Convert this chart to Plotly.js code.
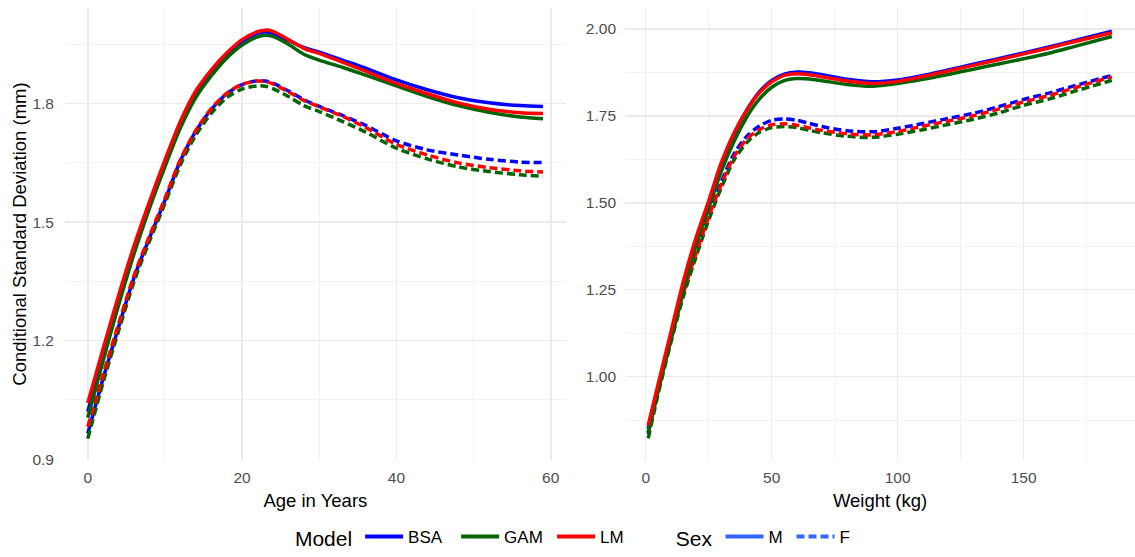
<!DOCTYPE html>
<html>
<head>
<meta charset="utf-8">
<script src="https://cdn.plot.ly/plotly-3.0.1.min.js"></script>
<style>
  html, body { margin: 0; padding: 0; background: #ffffff; }
  #chart { width: 1135px; height: 557px; }
</style>
</head>
<body>
<div id="chart"></div>
<script>
// Conditional SD curves by age
const age = [0, 2, 4, 6, 8, 10, 12, 14, 16, 18, 20, 22, 23, 24, 26, 28, 30, 33, 36, 40, 44, 48, 52, 56, 59];
const ageBsaM = [1.020, 1.165, 1.305, 1.432, 1.545, 1.650, 1.750, 1.826, 1.882, 1.925, 1.958, 1.978, 1.981, 1.978, 1.960, 1.942, 1.930, 1.910, 1.890, 1.860, 1.835, 1.815, 1.802, 1.795, 1.793];
const ageGamM = [1.005, 1.150, 1.290, 1.420, 1.535, 1.640, 1.738, 1.815, 1.870, 1.915, 1.948, 1.969, 1.973, 1.970, 1.950, 1.925, 1.910, 1.892, 1.872, 1.845, 1.818, 1.795, 1.778, 1.766, 1.762];
const ageLmM  = [1.042, 1.180, 1.315, 1.440, 1.552, 1.657, 1.755, 1.832, 1.885, 1.928, 1.962, 1.982, 1.986, 1.983, 1.962, 1.940, 1.927, 1.905, 1.882, 1.851, 1.825, 1.802, 1.786, 1.777, 1.775];
const ageBsaF = [0.965, 1.105, 1.235, 1.360, 1.460, 1.555, 1.655, 1.730, 1.785, 1.825, 1.848, 1.858, 1.857, 1.852, 1.832, 1.810, 1.793, 1.770, 1.745, 1.706, 1.683, 1.670, 1.659, 1.652, 1.651];
const ageGamF = [0.952, 1.095, 1.225, 1.350, 1.452, 1.547, 1.645, 1.720, 1.775, 1.815, 1.837, 1.845, 1.844, 1.838, 1.818, 1.795, 1.780, 1.755, 1.728, 1.687, 1.660, 1.640, 1.628, 1.620, 1.616];
const ageLmF  = [0.982, 1.115, 1.243, 1.365, 1.465, 1.560, 1.658, 1.732, 1.787, 1.826, 1.849, 1.857, 1.856, 1.850, 1.830, 1.808, 1.792, 1.768, 1.740, 1.697, 1.670, 1.650, 1.638, 1.630, 1.627];

// Conditional SD curves by weight
const weight = [1, 5, 10, 15, 20, 25, 30, 35, 40, 45, 50, 55, 60, 65, 70, 80, 90, 100, 110, 120, 130, 140, 150, 160, 170, 185];
const wtBsaM = [0.850, 0.970, 1.120, 1.265, 1.395, 1.500, 1.610, 1.697, 1.765, 1.818, 1.852, 1.870, 1.876, 1.874, 1.868, 1.855, 1.848, 1.853, 1.866, 1.882, 1.898, 1.914, 1.931, 1.948, 1.966, 1.993];
const wtGamM = [0.840, 0.960, 1.105, 1.250, 1.380, 1.485, 1.590, 1.675, 1.745, 1.797, 1.832, 1.851, 1.857, 1.856, 1.851, 1.840, 1.835, 1.843, 1.855, 1.869, 1.884, 1.899, 1.914, 1.930, 1.949, 1.978];
const wtLmM  = [0.860, 0.980, 1.128, 1.275, 1.400, 1.505, 1.615, 1.700, 1.765, 1.815, 1.848, 1.866, 1.871, 1.868, 1.862, 1.850, 1.843, 1.849, 1.863, 1.879, 1.895, 1.911, 1.928, 1.945, 1.963, 1.989];
const wtBsaF = [0.835, 0.965, 1.110, 1.245, 1.360, 1.465, 1.560, 1.640, 1.690, 1.720, 1.737, 1.741, 1.737, 1.728, 1.719, 1.707, 1.704, 1.714, 1.728, 1.742, 1.757, 1.776, 1.797, 1.815, 1.836, 1.866];
const wtGamF = [0.822, 0.952, 1.098, 1.232, 1.345, 1.450, 1.543, 1.622, 1.672, 1.702, 1.716, 1.719, 1.716, 1.708, 1.701, 1.691, 1.688, 1.697, 1.710, 1.725, 1.740, 1.758, 1.780, 1.798, 1.820, 1.852];
const wtLmF  = [0.840, 0.965, 1.108, 1.242, 1.355, 1.460, 1.553, 1.632, 1.682, 1.710, 1.724, 1.727, 1.723, 1.715, 1.708, 1.698, 1.695, 1.705, 1.720, 1.735, 1.750, 1.769, 1.790, 1.808, 1.830, 1.862];

const models = ['BSA', 'GAM', 'LM'];
const sexes = ['M', 'F'];
const modelColors = { BSA: '#0000FF', GAM: '#006400', LM: '#FF0000' };
const sexDash = { M: 'solid', F: '8px,4px' };
const sexLegendColor = '#3366FF';

const ageSeries = { BSA: { M: ageBsaM, F: ageBsaF }, GAM: { M: ageGamM, F: ageGamF }, LM: { M: ageLmM, F: ageLmF } };
const wtSeries  = { BSA: { M: wtBsaM, F: wtBsaF },  GAM: { M: wtGamM, F: wtGamF },  LM: { M: wtLmM, F: wtLmF } };

const LW = 3.5;
const traces = [];

sexes.slice().reverse().forEach(sex => {
  models.forEach(m => {
    traces.push({
      type: 'scatter', mode: 'lines', x: age, y: ageSeries[m][sex],
      xaxis: 'x', yaxis: 'y', showlegend: false, hoverinfo: 'skip',
      line: { color: modelColors[m], width: LW, dash: sexDash[sex], shape: 'spline', smoothing: 0.8 }
    });
    traces.push({
      type: 'scatter', mode: 'lines', x: weight, y: wtSeries[m][sex],
      xaxis: 'x2', yaxis: 'y2', showlegend: false, hoverinfo: 'skip',
      line: { color: modelColors[m], width: LW, dash: sexDash[sex], shape: 'spline', smoothing: 0.8 }
    });
  });
});

// Legend keys
models.forEach(m => {
  traces.push({
    type: 'scatter', mode: 'lines', x: [null], y: [null], name: m,
    legend: 'legend', showlegend: true, hoverinfo: 'skip',
    line: { color: modelColors[m], width: 4 }
  });
});
sexes.forEach(s => {
  traces.push({
    type: 'scatter', mode: 'lines', x: [null], y: [null], name: s,
    legend: 'legend2', showlegend: true, hoverinfo: 'skip',
    line: { color: sexLegendColor, width: 4, dash: sexDash[s] }
  });
});

const FONT = 'Liberation Sans, Arial, sans-serif';
const gridMajor = '#EBEBEB';
const gridMinor = '#F2F2F2';
const tickFont = { family: FONT, size: 15.5, color: '#4D4D4D' };
const titleFont = { family: FONT, size: 18.5, color: '#000000' };

function axisBase(extra) {
  return Object.assign({
    showgrid: true, gridcolor: gridMajor, gridwidth: 1.6,
    zeroline: false, showline: false, ticks: '', tickfont: tickFont,
    ticklabelstandoff: 6, fixedrange: true
  }, extra);
}

const layout = {
  width: 1135, height: 557,
  margin: { l: 65, r: 0, t: 8, b: 93 },
  paper_bgcolor: '#ffffff', plot_bgcolor: '#ffffff',
  font: { family: FONT },
  xaxis: axisBase({
    domain: [0, 0.468], range: [-2.95, 61.95], tick0: 0, dtick: 20,
    minor: { dtick: 10, showgrid: true, gridcolor: gridMinor, gridwidth: 1 },
    title: { text: 'Age in Years', font: titleFont, standoff: 9 },
    anchor: 'y'
  }),
  yaxis: axisBase({
    domain: [0, 1], range: [0.898, 2.042], tick0: 0.9, dtick: 0.3, tickformat: '.1f',
    minor: { tick0: 0.9, dtick: 0.15, showgrid: true, gridcolor: gridMinor, gridwidth: 1 },
    ticklabelstandoff: 10,
    title: { text: 'Conditional Standard Deviation (mm)', font: titleFont, standoff: 0 },
    anchor: 'x'
  }),
  xaxis2: axisBase({
    domain: [0.5234, 1], range: [-8.2, 194.2], tick0: 0, dtick: 50,
    minor: { dtick: 25, showgrid: true, gridcolor: gridMinor, gridwidth: 1 },
    title: { text: 'Weight (kg)', font: titleFont, standoff: 9 },
    anchor: 'y2'
  }),
  yaxis2: axisBase({
    domain: [0, 1], range: [0.76, 2.06], tick0: 1.0, dtick: 0.25, tickformat: '.2f',
    minor: { tick0: 1.0, dtick: 0.125, showgrid: true, gridcolor: gridMinor, gridwidth: 1 },
    ticklabelstandoff: 8,
    anchor: 'x2'
  }),
  legend: {
    orientation: 'h', x: 0.213, y: -0.173, xanchor: 'left', yanchor: 'middle',
    title: { text: 'Model', side: 'left', font: { family: FONT, size: 21, color: '#000000' } },
    font: { family: FONT, size: 17, color: '#000000' }, bgcolor: 'rgba(0,0,0,0)', itemwidth: 38,
    entrywidth: 43, entrywidthmode: 'pixels',
    traceorder: 'normal'
  },
  legend2: {
    orientation: 'h', x: 0.569, y: -0.173, xanchor: 'left', yanchor: 'middle',
    title: { text: 'Sex', side: 'left', font: { family: FONT, size: 21, color: '#000000' } },
    font: { family: FONT, size: 17, color: '#000000' }, bgcolor: 'rgba(0,0,0,0)', itemwidth: 38,
    entrywidth: 18, entrywidthmode: 'pixels',
    traceorder: 'normal'
  },
  showlegend: true,
  hovermode: false
};

Plotly.newPlot('chart', traces, layout, { displayModeBar: false, staticPlot: true });
</script>
</body>
</html>
